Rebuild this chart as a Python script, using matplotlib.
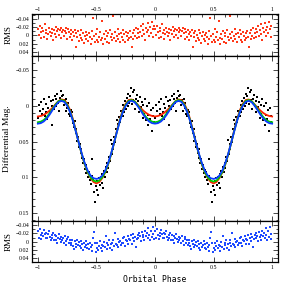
import numpy as np
import matplotlib
matplotlib.use("Agg")
import matplotlib.pyplot as plt
from matplotlib.ticker import MultipleLocator, FuncFormatter

# ---- observations (phase folded, 0..1; plotted twice) ----
phase = [
0.004, 0.011, 0.017, 0.026, 0.031, 0.039, 0.046, 0.052, 0.061, 0.066,
0.073, 0.081, 0.088, 0.094, 0.102, 0.108, 0.117, 0.123, 0.129, 0.138,
0.144, 0.151, 0.159, 0.166, 0.172, 0.181, 0.187, 0.194, 0.201, 0.209,
0.216, 0.222, 0.231, 0.237, 0.244, 0.252, 0.259, 0.266, 0.273, 0.279,
0.287, 0.294, 0.301, 0.308, 0.316, 0.322, 0.329, 0.337, 0.344, 0.351,
0.358, 0.366, 0.372, 0.379, 0.387, 0.394, 0.401, 0.408, 0.415, 0.423,
0.429, 0.436, 0.444, 0.451, 0.458, 0.465, 0.472, 0.479, 0.486, 0.494,
0.501, 0.508, 0.515, 0.522, 0.529, 0.537, 0.544, 0.551, 0.558, 0.565,
0.572, 0.580, 0.587, 0.594, 0.601, 0.608, 0.616, 0.622, 0.630, 0.637,
0.644, 0.651, 0.658, 0.666, 0.672, 0.680, 0.687, 0.694, 0.701, 0.709,
0.716, 0.723, 0.730, 0.737, 0.745, 0.751, 0.759, 0.766, 0.773, 0.780,
0.787, 0.794, 0.802, 0.808, 0.816, 0.823, 0.830, 0.837, 0.844, 0.851,
0.859, 0.866, 0.873, 0.880, 0.887, 0.894, 0.901, 0.909, 0.916, 0.923,
0.930, 0.937, 0.944, 0.951, 0.958, 0.966, 0.973, 0.980, 0.987, 0.994]

mag = [
0.017, -0.001, 0.008, 0.023, -0.005, 0.012, 0.005, -0.009, 0.014, 0.009,
-0.003, 0.018, 0.003, -0.012, 0.009, -0.006, 0.027, 0.000, -0.008, 0.004,
-0.014, 0.001, -0.009, -0.017, -0.004, 0.007, -0.011, -0.020, -0.006, -0.013,
-0.015, -0.001, -0.008, 0.008, -0.010, 0.003, -0.004, 0.011, 0.015, 0.006,
0.015, 0.009, 0.024, 0.030, 0.022, 0.038, 0.033, 0.049, 0.044, 0.058,
0.054, 0.066, 0.061, 0.073, 0.080, 0.075, 0.088, 0.083, 0.094, 0.090,
0.099, 0.093, 0.104, 0.110, 0.098, 0.074, 0.103, 0.120, 0.134, 0.112,
0.118, 0.105, 0.124, 0.101, 0.111, 0.100, 0.108, 0.096, 0.115, 0.091,
0.099, 0.086, 0.092, 0.080, 0.087, 0.071, 0.077, 0.048, 0.068, 0.054,
0.061, 0.044, 0.050, 0.033, 0.020, 0.025, 0.030, 0.016, 0.023, 0.008,
0.007, 0.015, -0.001, 0.009, -0.007, 0.004, -0.011, 0.001, -0.016, -0.004,
-0.013, -0.025, -0.002, -0.019, -0.008, -0.022, 0.005, -0.010, -0.015, 0.000,
-0.007, 0.009, -0.012, 0.002, -0.005, 0.017, -0.001, 0.011, -0.009, 0.020,
0.001, 0.027, 0.013, -0.004, 0.019, 0.006, 0.035, 0.003, 0.015, 0.023]

res_red = [
-0.015, -0.002, -0.024, -0.008, 0.006, -0.018, -0.011, 0.003, -0.028, -0.006,
-0.013, 0.009, -0.004, -0.019, -0.009, 0.001, -0.016, -0.007, 0.012, -0.012,
-0.003, -0.021, 0.004, -0.010, -0.015, -0.001, -0.013, 0.007, -0.018, -0.008,
-0.014, 0.002, -0.011, -0.017, -0.005, 0.008, -0.015, -0.009, 0.003, -0.012,
-0.004, 0.010, -0.008, 0.001, -0.013, 0.029, -0.006, 0.005, -0.010, 0.014,
-0.002, 0.007, -0.012, 0.011, -0.005, 0.018, 0.002, -0.008, 0.009, -0.001,
0.013, -0.006, 0.004, 0.020, -0.011, 0.008, -0.042, 0.001, 0.015, -0.004,
0.010, -0.015, 0.017, 0.003, -0.008, 0.012, -0.035, 0.006, 0.021, -0.003,
0.008, -0.010, 0.015, 0.002, -0.006, 0.019, -0.012, 0.005, 0.011, -0.003,
-0.048, 0.007, -0.009, 0.014, 0.001, -0.016, 0.009, -0.004, 0.017, -0.007,
0.004, -0.012, 0.010, -0.003, 0.016, -0.009, 0.002, 0.012, -0.006, 0.007,
-0.011, 0.003, 0.028, -0.007, 0.009, -0.014, 0.001, -0.019, 0.006, -0.005,
-0.016, 0.004, -0.009, -0.022, 0.002, -0.012, -0.027, -0.004, 0.010, -0.017,
-0.008, -0.030, -0.013, 0.001, -0.021, -0.006, -0.033, -0.015, 0.004, -0.024]

res_blue = [
-0.025, -0.010, -0.031, -0.015, -0.006, -0.022, -0.013, -0.028, -0.018, -0.009,
-0.021, -0.008, -0.019, -0.026, -0.012, -0.003, -0.017, -0.010, -0.022, -0.005,
-0.015, -0.004, -0.013, 0.002, -0.010, -0.018, -0.006, 0.001, -0.012, -0.003,
-0.009, 0.004, -0.013, -0.002, 0.007, -0.006, -0.011, 0.002, -0.004, 0.008,
0.003, -0.005, 0.010, 0.017, -0.002, 0.006, 0.013, -0.004, 0.009, 0.001,
0.011, -0.001, 0.016, 0.006, 0.020, 0.003, 0.012, 0.009, -0.002, 0.014,
0.006, 0.018, 0.002, 0.013, 0.022, 0.008, -0.010, -0.024, 0.004, 0.026,
0.014, 0.003, 0.019, 0.010, -0.002, 0.016, 0.007, 0.023, 0.011, 0.001,
0.012, -0.013, 0.017, 0.004, 0.009, -0.003, 0.014, 0.006, 0.020, 0.002,
-0.004, 0.011, -0.020, 0.005, 0.009, -0.006, 0.013, 0.001, -0.002, 0.007,
0.004, -0.008, 0.002, -0.011, 0.010, -0.004, -0.001, -0.014, 0.005, -0.007,
-0.003, -0.015, 0.006, -0.009, -0.018, -0.002, -0.012, 0.012, -0.007, -0.016,
-0.008, -0.020, -0.013, -0.002, -0.024, -0.011, -0.017, -0.005, -0.027, -0.014,
-0.022, -0.009, -0.033, -0.016, -0.004, -0.026, -0.012, -0.035, -0.019, -0.007]

# ---- model curves, half period (phase 0 .. 0.5), symmetric ----
model_phase = [0.000, 0.025, 0.050, 0.075, 0.100, 0.125, 0.150, 0.175, 0.200, 0.225,
               0.250, 0.275, 0.300, 0.325, 0.350, 0.375, 0.400, 0.425, 0.450, 0.475, 0.500]
model_red = [0.0150, 0.0143, 0.0127, 0.0102, 0.0068, 0.0028, -0.0020, -0.0064, -0.0088, -0.0080,
             -0.0030, 0.0060, 0.0190, 0.0350, 0.0520, 0.0680, 0.0820, 0.0930, 0.1010, 0.1065, 0.1085]
model_green = [0.0230, 0.0222, 0.0200, 0.0160, 0.0105, 0.0045, -0.0015, -0.0062, -0.0080, -0.0068,
               -0.0015, 0.0078, 0.0205, 0.0360, 0.0522, 0.0678, 0.0815, 0.0925, 0.1000, 0.1045, 0.1060]
model_blue = [0.0250, 0.0243, 0.0220, 0.0180, 0.0125, 0.0060, 0.0000, -0.0050, -0.0068, -0.0055,
              0.0000, 0.0090, 0.0215, 0.0365, 0.0520, 0.0670, 0.0800, 0.0905, 0.0975, 0.1012, 0.1022]

x_ticks = [-1, -0.5, 0, 0.5, 1]
mag_ticks = [-0.05, 0, 0.05, 0.1, 0.15]
rms_ticks = [-0.04, -0.02, 0, 0.02, 0.04]

RED = "#ff3a1a"
BLUE = "#1f4bff"

def twice(p, v):
    p = np.asarray(p); v = np.asarray(v)
    return np.concatenate([p - 1, p]), np.concatenate([v, v])

def full_curve(hp, hv):
    hp = np.asarray(hp); hv = np.asarray(hv)
    p = np.concatenate([hp, 1 - hp[-2::-1]])
    v = np.concatenate([hv, hv[-2::-1]])
    return np.concatenate([p - 1, p[1:]]), np.concatenate([v, v[1:]])

def fmt(v, pos):
    s = "%g" % v
    if s == "-0":
        s = "0"
    return s.replace("-", "\u2212")

fig = plt.figure(figsize=(2.94, 2.94), dpi=100)
L, W = 32/294, 246/294
ax_top = fig.add_axes([L, 1 - 56/294, W, 42/294])
ax_main = fig.add_axes([L, 1 - 221/294, W, 165/294])
ax_bot = fig.add_axes([L, 1 - 262/294, W, 41/294])

tick_fs = 4.2
for ax in (ax_top, ax_main, ax_bot):
    ax.set_xlim(-1.05, 1.05)
    ax.xaxis.set_major_locator(MultipleLocator(0.5))
    ax.xaxis.set_minor_locator(MultipleLocator(0.1))
    ax.tick_params(which="both", direction="in", top=True, right=True,
                   labelsize=tick_fs, pad=2, width=0.5)
    ax.tick_params(which="major", length=3.5)
    ax.tick_params(which="minor", length=1.8)
    for s in ax.spines.values():
        s.set_linewidth(0.9)
    ax.xaxis.set_major_formatter(FuncFormatter(fmt))
    ax.yaxis.set_major_formatter(FuncFormatter(fmt))
    for lab in ax.get_xticklabels() + ax.get_yticklabels():
        lab.set_family("Liberation Serif")

MS = 2.6

# top residual panel
xp, yp = twice(phase, res_red)
ax_top.scatter(xp, yp, s=MS, marker="s", color=RED, linewidths=0)
ax_top.set_ylim(0.05, -0.052)
ax_top.set_yticks(rms_ticks)
ax_top.yaxis.set_minor_locator(MultipleLocator(0.01))
ax_top.set_xticks(x_ticks)
ax_top.tick_params(axis="x", labelbottom=False, labeltop=True, pad=1.5)
ax_top.set_ylabel("RMS", family="Liberation Serif", fontsize=6.5, labelpad=2)

# main panel
xp, yp = twice(phase, mag)
ax_main.scatter(xp, yp, s=MS, marker="s", color="black", linewidths=0, zorder=2)
for mv, c in ((model_red, "#ff2200"), (model_green, "#00cc00"), (model_blue, "#0a3cff")):
    cx, cy = full_curve(model_phase, mv)
    ax_main.plot(cx, cy, color=c, lw=1.3, zorder=3)
ax_main.set_ylim(0.161, -0.0695)
ax_main.set_yticks(mag_ticks)
ax_main.yaxis.set_minor_locator(MultipleLocator(0.01))
ax_main.set_xticks(x_ticks)
ax_main.tick_params(axis="x", labelbottom=False)
ax_main.set_ylabel("Differential Mag.", family="Liberation Serif", fontsize=6.8, labelpad=3)

# bottom residual panel
xp, yp = twice(phase, res_blue)
ax_bot.scatter(xp, yp, s=MS, marker="s", color=BLUE, linewidths=0)
ax_bot.set_ylim(0.049, -0.05)
ax_bot.set_yticks(rms_ticks)
ax_bot.yaxis.set_minor_locator(MultipleLocator(0.01))
ax_bot.set_xticks(x_ticks)
ax_bot.tick_params(axis="x", pad=2)
ax_bot.set_ylabel("RMS", family="Liberation Serif", fontsize=6.5, labelpad=2)
ax_bot.set_xlabel("Orbital Phase", family="DejaVu Sans Mono", fontsize=5.8, labelpad=4)

for ax in (ax_top, ax_main, ax_bot):
    for lab in ax.get_xticklabels() + ax.get_yticklabels():
        lab.set_family("Liberation Serif")

fig.savefig("out.png", dpi=100)
